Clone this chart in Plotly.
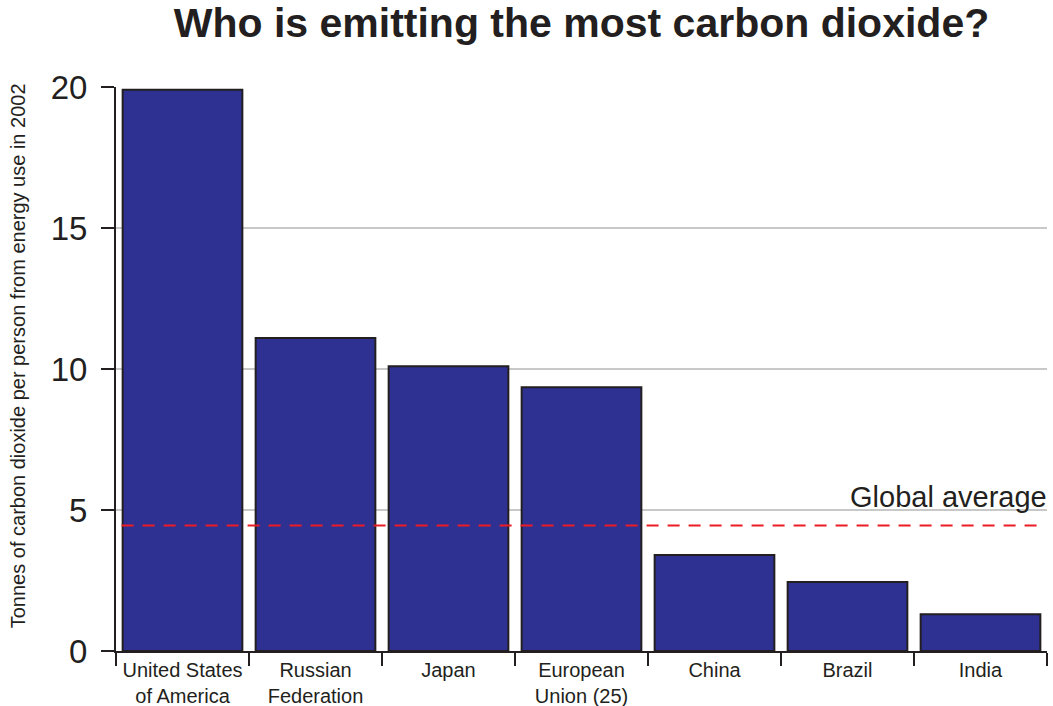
import plotly.graph_objects as go

categories = ["United States<br>of America", "Russian<br>Federation", "Japan",
              "European<br>Union (25)", "China", "Brazil", "India"]
values = [19.9, 11.1, 10.1, 9.35, 3.4, 2.45, 1.3]
global_average = 4.45
y_ticks = [0, 5, 10, 15, 20]

FONT = "Liberation Sans"
TXT = "#231f20"

fig = go.Figure()
fig.add_trace(go.Bar(
    x=categories, y=values, width=0.9,
    marker=dict(color="#2e3192", line=dict(color="#231f20", width=2)),
    hoverinfo="skip", showlegend=False,
))
fig.add_shape(type="line", xref="paper", yref="y", x0=0.006, x1=0.998,
              y0=global_average, y1=global_average,
              line=dict(color="#ed1c24", width=2, dash="12px,9px"))
fig.add_annotation(text="Global average", xref="paper", yref="y", x=1.002, y=5.45,
                   xanchor="right", yanchor="middle", showarrow=False,
                   font=dict(family=FONT, size=29, color=TXT))
fig.add_annotation(text="Tonnes of carbon dioxide per person from energy use in 2002",
                   xref="paper", yref="paper", x=-0.105, y=0.523, textangle=-90,
                   xanchor="center", yanchor="middle", showarrow=False,
                   font=dict(family=FONT, size=20, color=TXT))

fig.update_layout(
    width=1053, height=706,
    margin=dict(l=116, r=6, t=87, b=55),
    paper_bgcolor="white", plot_bgcolor="white",
    title=dict(text="<b>Who is emitting the most carbon dioxide?</b>", x=0.5, xref="paper",
               xanchor="center", y=0.988, yanchor="top",
               font=dict(family=FONT, size=41, color=TXT)),
    xaxis=dict(showline=True, linecolor=TXT, linewidth=2, tickson="boundaries",
               ticks="outside", ticklen=13, tickwidth=2, tickcolor=TXT, automargin=False,
               tickfont=dict(family=FONT, size=20, color=TXT), showgrid=False),
    yaxis=dict(range=[0, 20], tickvals=y_ticks, showline=True, linecolor=TXT, linewidth=2,
               ticks="outside", ticklen=13, tickwidth=2, tickcolor=TXT, automargin=False,
               ticklabelstandoff=7,
               tickfont=dict(family=FONT, size=33, color=TXT),
               showgrid=True, gridcolor="#c8c8c8", gridwidth=1.5, zeroline=False),
)
fig.write_html("out.html", config={"displayModeBar": False},
               post_script="document.body.style.margin='0';")
